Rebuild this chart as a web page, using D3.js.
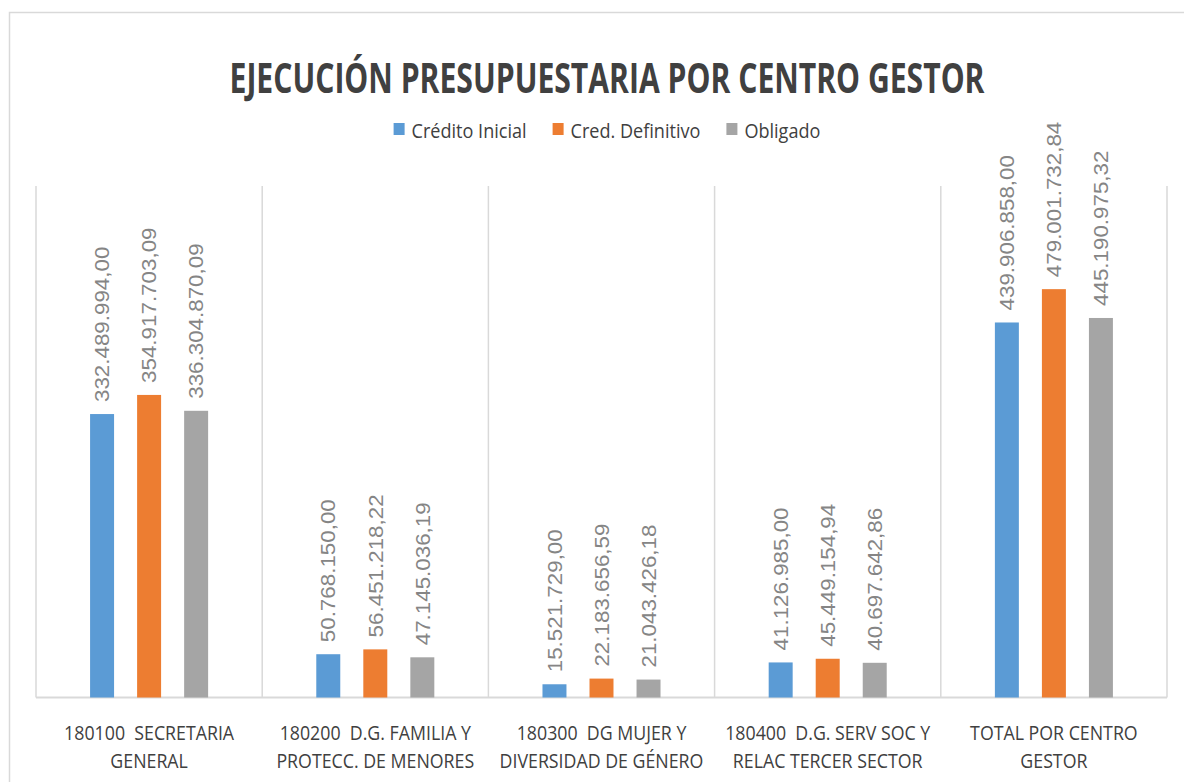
<!DOCTYPE html>
<html>
<head>
<meta charset="utf-8">
<script src="https://cdn.jsdelivr.net/npm/d3@7"></script>
<style>
  html, body { margin: 0; padding: 0; background: #fff; }
  svg { display: block; }
  text { white-space: pre; }
</style>
</head>
<body>
<svg id="chart" width="1184" height="782"></svg>
<script>
// ---------- DATA ----------
const chartTitle = "EJECUCIÓN PRESUPUESTARIA POR CENTRO GESTOR";
const categories = [
  ["180100  SECRETARIA", "GENERAL"],
  ["180200  D.G. FAMILIA Y", "PROTECC. DE MENORES"],
  ["180300  DG MUJER Y", "DIVERSIDAD DE GÉNERO"],
  ["180400  D.G. SERV SOC Y", "RELAC TERCER SECTOR"],
  ["TOTAL POR CENTRO", "GESTOR"]
];
const seriesNames = ["Crédito Inicial", "Cred. Definitivo", "Obligado"];
const creditoInicial = [332489994.00, 50768150.00, 15521729.00, 41126985.00, 439906858.00];
const credDefinitivo = [354917703.09, 56451218.22, 22183656.59, 45449154.94, 479001732.84];
const obligado = [336304870.09, 47145036.19, 21043426.18, 40697642.86, 445190975.32];
const seriesValues = [creditoInicial, credDefinitivo, obligado];
const colors = ["#5B9BD5", "#ED7D31", "#A5A5A5"];
const yMax = 600000000;

// ---------- LAYOUT ----------
const svg = d3.select("#chart");
const plot = { left: 36, right: 1167, top: 186, bottom: 697.5 };
const centerX = 607;

const locale = d3.formatLocale({ decimal: ",", thousands: ".", grouping: [3], currency: ["", ""] });
const fmt = locale.format(",.2f");

// outer border
svg.append("rect")
  .attr("x", 9.5).attr("y", 12.5).attr("width", 1200).attr("height", 800)
  .attr("fill", "none").attr("stroke", "#d9d9d9").attr("stroke-width", 1.5);

const catKeys = categories.map((d, i) => i);
const x0 = d3.scaleBand().domain(catKeys).range([plot.left, plot.right]).paddingInner(0).paddingOuter(0);
const x1 = d3.scaleBand().domain([0, 1, 2]).range([0, x0.bandwidth()]).paddingInner(0.49).paddingOuter(1.15);
const y = d3.scaleLinear().domain([0, yMax]).range([plot.bottom, plot.top]);

// vertical category separators
const seps = catKeys.map(i => x0(i)).concat([plot.right]);
svg.append("g").selectAll("line").data(seps).join("line")
  .attr("x1", d => d).attr("x2", d => d)
  .attr("y1", plot.top).attr("y2", plot.bottom)
  .attr("stroke", "#d9d9d9").attr("stroke-width", 1.5);

// baseline
svg.append("line")
  .attr("x1", plot.left).attr("x2", plot.right)
  .attr("y1", plot.bottom).attr("y2", plot.bottom)
  .attr("stroke", "#d9d9d9").attr("stroke-width", 2);

// bars
const barData = [];
catKeys.forEach(ci => seriesValues.forEach((vals, si) => barData.push({ ci, si, v: vals[ci] })));

const gBars = svg.append("g");
gBars.selectAll("rect").data(barData).join("rect")
  .attr("x", d => x0(d.ci) + x1(d.si))
  .attr("y", d => y(d.v))
  .attr("width", x1.bandwidth())
  .attr("height", d => y(0) - y(d.v))
  .attr("fill", d => colors[d.si]);

// value labels (rotated)
const labelFont = "'Liberation Sans', Arial, sans-serif";
const vl = svg.append("g").selectAll("text").data(barData).join("text")
  .attr("transform", d => `translate(${x0(d.ci) + x1(d.si) + x1.bandwidth() / 2},${y(d.v) - 12}) rotate(-90)`)
  .attr("dy", "0.36em")
  .attr("text-anchor", "start")
  .attr("font-family", labelFont)
  .attr("font-size", 20)
  .attr("fill", "#858585")
  .text(d => fmt(d.v));
const refVal = vl.filter(d => d.ci === 1 && d.si === 0).node();
const kVal = 143 / refVal.getComputedTextLength();
vl.each(function () {
  const w = this.getComputedTextLength();
  d3.select(this).attr("textLength", w * kVal).attr("lengthAdjust", "spacingAndGlyphs");
});

// category labels
const catFont = "'Open Sans', 'Noto Sans', sans-serif";
const gCat = svg.append("g");
const catTexts = [];
categories.forEach((lines, ci) => {
  lines.forEach((ln, li) => {
    const t = gCat.append("text")
      .attr("x", x0(ci) + x0.bandwidth() / 2)
      .attr("y", 740 + li * 28)
      .attr("text-anchor", "middle")
      .attr("font-family", catFont)
      .attr("font-size", 20)
      .attr("fill", "#404040")
      .text(ln);
    catTexts.push(t);
  });
});
const kCat = 170 / catTexts[0].node().getComputedTextLength();
catTexts.forEach(t => {
  const w = t.node().getComputedTextLength();
  t.attr("textLength", w * kCat).attr("lengthAdjust", "spacingAndGlyphs");
});

// title (smaller font, stretched vertically to match the condensed look)
const titleSize = 30, titleCap = 41;
svg.append("text")
  .attr("transform", `translate(${centerX},92.5) scale(1,${titleCap / titleSize})`)
  .attr("text-anchor", "middle")
  .attr("font-family", catFont)
  .attr("font-weight", "bold")
  .attr("font-size", titleSize)
  .attr("fill", "#404040")
  .attr("textLength", 755)
  .attr("lengthAdjust", "spacingAndGlyphs")
  .text(chartTitle);

// legend
const gLeg = svg.append("g");
const legTexts = seriesNames.map(n => gLeg.append("text")
  .attr("font-family", catFont).attr("font-size", 20).attr("fill", "#404040").text(n));
const kLeg = 115 / legTexts[0].node().getComputedTextLength();
const widths = legTexts.map(t => t.node().getComputedTextLength() * kLeg);
const sq = 11, gapSq = 7, gapItem = 26;
const total = d3.sum(widths) + seriesNames.length * (sq + gapSq) + (seriesNames.length - 1) * gapItem;
let lx = centerX - total / 2;
seriesNames.forEach((n, i) => {
  gLeg.append("rect").attr("x", lx).attr("y", 123).attr("width", sq).attr("height", 12).attr("fill", colors[i]);
  legTexts[i].attr("x", lx + sq + gapSq).attr("y", 137.5)
    .attr("textLength", widths[i]).attr("lengthAdjust", "spacingAndGlyphs");
  lx += sq + gapSq + widths[i] + gapItem;
});
</script>
</body>
</html>
